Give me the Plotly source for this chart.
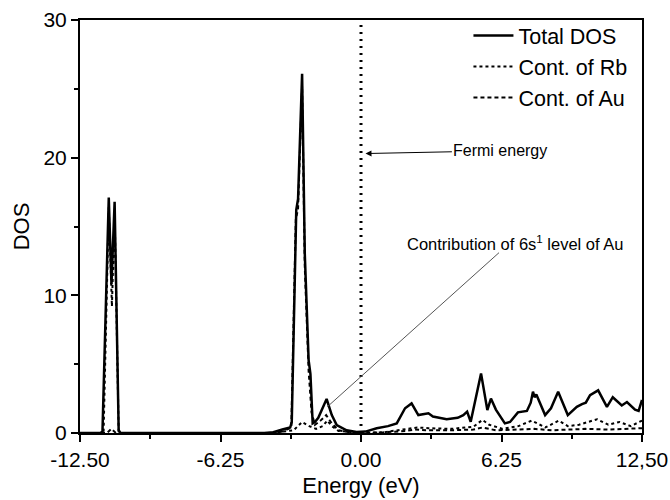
import plotly.graph_objects as go

# ---------------- data ----------------
total_x = [-12.5, -11.6, -11.5, -11.22, -11.1, -10.96, -10.78, -10.7,
           -4.3, -3.9, -3.5, -3.15, -3.08, -2.88, -2.8, -2.62, -2.5, -2.33, -2.25, -2.15,
           -2.05, -1.9, -1.53, -1.3, -1.08, -0.64, -0.2, 0.2, 0.7, 1.2, 1.59, 1.96, 2.25, 2.55,
           3.0, 3.2, 3.81, 4.3, 4.55, 4.72, 4.88, 5.34, 5.62, 5.78, 6.0, 6.4, 6.63,
           6.98, 7.38, 7.55, 7.65, 7.72, 7.8, 8.19, 8.45, 8.77, 9.2, 9.6, 9.83, 10.0,
           10.19, 10.55, 10.94, 11.2, 11.6, 11.83, 12.19, 12.35, 12.5]
total_y = [0, 0, 0.1, 17.1, 10.8, 16.8, 0.2, 0,
           0, 0.05, 0.25, 0.4, 0.8, 16.2, 17.0, 26.1, 13.0, 5.3, 4.3, 0.7,
           0.8, 1.1, 2.47, 1.3, 0.58, 0.2, 0.08, 0.1, 0.35, 0.5, 0.7, 1.8, 2.15, 1.3,
           1.43, 1.2, 1.0, 1.1, 1.3, 1.55, 0.82, 4.33, 1.67, 2.5, 1.7, 0.7, 0.8,
           1.5, 1.6, 2.2, 3.0, 2.6, 2.8, 1.3, 1.8, 3.0, 1.3, 1.9, 2.1, 2.2,
           2.75, 3.1, 1.9, 2.6, 2.0, 2.25, 1.7, 1.6, 2.4]

rb_x = [-12.5, -11.55, -11.45, -11.22, -11.08, -10.96, -10.78, -10.7,
        -4.0, -3.0, -2.62, -2.3, -2.0, -1.7, -1.5, -1.3, -1.0, 0.0, 1.0, 2.0, 2.5,
        3.0, 4.0, 5.0, 5.4, 5.7, 6.3, 7.0, 7.6, 8.2, 8.8, 9.2, 9.7, 10.5, 11.0,
        11.5, 12.0, 12.5]
rb_y = [0, 0, 0.1, 16.4, 9.2, 16.1, 0.1, 0,
        0, 0.2, 0.8, 0.5, 0.3, 0.5, 0.9, 0.5, 0.15, 0, 0.05, 0.3, 0.4,
        0.35, 0.3, 0.45, 0.95, 0.6, 0.3, 0.5, 0.9, 0.4, 0.9, 0.5, 0.6, 1.0, 0.6,
        0.8, 0.5, 0.9]

au_x = [-12.5, -11.3, -11.1, -10.9, -4.0, -3.5, -3.1, -2.9, -2.8, -2.62, -2.5,
        -2.33, -2.2, -2.05, -1.8, -1.55, -1.3, -1.0, -0.5, 0.0, 1.0, 2.0, 2.4,
        3.0, 4.0, 5.0, 5.4, 6.0, 7.0, 7.7, 8.5, 9.0, 10.0, 11.0, 12.0, 12.5]
au_y = [0, 0, 0.3, 0, 0, 0.1, 0.4, 15.5, 16.3, 25.2, 12.0,
        4.5, 1.5, 0.6, 0.9, 1.3, 0.7, 0.2, 0.05, 0, 0.05, 0.15, 0.25,
        0.2, 0.2, 0.25, 0.4, 0.2, 0.25, 0.3, 0.2, 0.25, 0.3, 0.25, 0.3, 0.35]

x_tick_vals = [-12.5, -6.25, 0.0, 6.25, 12.5]
x_tick_text = ["-12.50", "-6.25", "0.00", "6.25", "12,50"]
y_tick_vals = [0, 10, 20, 30]

FONT = "Liberation Sans, Arial, sans-serif"

fig = go.Figure()
fig.add_trace(go.Scatter(x=total_x, y=total_y, mode="lines", name="Total DOS",
                         line=dict(color="black", width=2.5)))
fig.add_trace(go.Scatter(x=rb_x, y=rb_y, mode="lines", name="Cont. of Rb",
                         line=dict(color="black", width=2, dash="dot")))
fig.add_trace(go.Scatter(x=au_x, y=au_y, mode="lines", name="Cont. of Au",
                         line=dict(color="black", width=2, dash="4px,3px")))

# Fermi level
fig.add_shape(type="line", xref="x", yref="y", x0=0, x1=0, y0=0, y1=30,
              line=dict(color="black", width=3, dash="2px,5px"))
# line pointing to Au 6s contribution
fig.add_shape(type="line", xref="x", yref="y", x0=6.14, y0=13.1, x1=-1.5, y1=1.9,
              line=dict(color="#555555", width=1))

# Fermi energy label with arrow pointing to the Fermi level
fig.add_annotation(x=0.2, y=20.3, ax=6.2, ay=20.5, xref="x", yref="y",
                   axref="x", ayref="y", text="Fermi energy", showarrow=True,
                   arrowhead=2, arrowsize=1.2, arrowwidth=1, arrowcolor="black",
                   font=dict(family=FONT, size=16, color="black"))
fig.add_annotation(x=1.95, y=13.8, xref="x", yref="y",
                   text="Contribution of 6s<sup>1</sup> level of Au",
                   showarrow=False, xanchor="left", yanchor="middle",
                   font=dict(family=FONT, size=16.5, color="black"))

fig.update_layout(
    width=670, height=500,
    margin=dict(l=80, r=28, t=20, b=67),
    plot_bgcolor="white", paper_bgcolor="white",
    font=dict(family=FONT, size=21, color="black"),
    showlegend=True,
    legend=dict(x=0.983, y=1.012, xanchor="right", yanchor="top",
                bgcolor="rgba(0,0,0,0)", font=dict(size=21.5),
                tracegroupgap=0, itemwidth=40),
)
fig.update_xaxes(range=[-12.5, 12.5], tickvals=x_tick_vals, ticktext=x_tick_text,
                 showline=True, linecolor="black", linewidth=2, mirror=True,
                 ticks="outside", ticklen=7, tickwidth=2, tickcolor="black",
                 minor=dict(dtick=3.125, tick0=-12.5, ticks="outside", ticklen=4,
                            tickwidth=2, tickcolor="black"),
                 showgrid=False, zeroline=False, automargin=False,
                 title=dict(text="Energy (eV)", standoff=7, font=dict(size=22)))
fig.update_yaxes(range=[0, 30], tickvals=y_tick_vals,
                 showline=True, linecolor="black", linewidth=2, mirror=True,
                 ticks="outside", ticklen=7, tickwidth=2, tickcolor="black",
                 minor=dict(dtick=5, tick0=0, ticks="outside", ticklen=4,
                            tickwidth=2, tickcolor="black"),
                 showgrid=False, zeroline=False, automargin=False,
                 title=dict(text="DOS", standoff=8, font=dict(size=22)))

fig.write_html("out.html")
